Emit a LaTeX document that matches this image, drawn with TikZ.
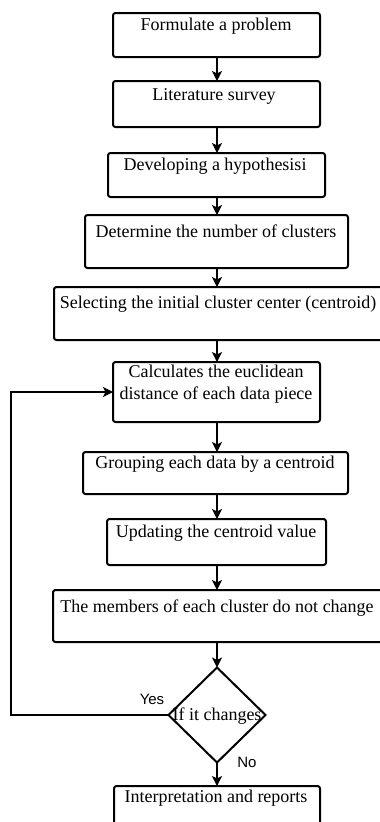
\documentclass[tikz,border=0pt]{standalone}
\usepackage{fontspec}
\setmainfont{Liberation Serif}
\newfontfamily\lsans{Liberation Sans}
\usetikzlibrary{shapes.geometric,arrows.meta}
\begin{document}
\begin{tikzpicture}[x=1pt,y=-1pt,
  box/.style={draw,line width=2pt,rounded corners=2.5pt,inner sep=0pt,outer sep=0pt},
  txt/.style={inner sep=0pt,font=\fontsize{18}{22}\selectfont,anchor=base},
  lbl/.style={inner sep=0pt,font=\lsans\fontsize{15}{18}\selectfont,anchor=base},
  arr/.style={line width=1.3pt,-{Stealth[length=10pt,width=10pt,inset=2.5pt]}}]
\useasboundingbox (0,0) rectangle (380,822);
\clip (0,0) rectangle (380,822);
\coordinate (axis) at (217,0);
\coordinate (lp) at (11,0);
% boxes
\node[box,minimum width=207pt,minimum height=44pt] (b1) at (216.5,35) {};
\node[box,minimum width=207pt,minimum height=46pt] (b2) at (216.5,104) {};
\node[box,minimum width=217pt,minimum height=44pt] (b3) at (216.5,175) {};
\node[box,minimum width=263pt,minimum height=53pt] (b4) at (216.5,241.5) {};
\node[box,minimum width=330pt,minimum height=53pt] (b5) at (219,313.5) {};
\node[box,minimum width=207pt,minimum height=60pt] (b6) at (216.5,392) {};
\node[box,minimum width=265pt,minimum height=42pt] (b7) at (215.5,473) {};
\node[box,minimum width=219pt,minimum height=46pt] (b8) at (216.5,542) {};
\node[box,minimum width=331pt,minimum height=52pt] (b9) at (218.5,616) {};
\node[draw,line width=2pt,shape=diamond,minimum width=97pt,minimum height=95pt,inner sep=0pt,outer sep=0pt] (d) at (217,715) {};
\node[box,minimum width=206pt,minimum height=44pt] (b10) at (217,808) {};
% texts
\node[txt] (t1) at (216,30) {Formulate a problem};
\node[txt] (t2) at (214,100) {Literature survey};
\node[txt] (t3) at (215,170) {Developing a hypothesisi};
\node[txt] (t4) at (216,237) {Determine the number of clusters};
\node[txt] (t5) at (218,308) {Selecting the initial cluster center (centroid)};
\node[txt] (t6a) at (216,377) {Calculates the euclidean};
\node[txt] (t6b) at (216,399) {distance of each data piece};
\node[txt] (t7) at (215,468) {Grouping each data by a centroid};
\node[txt] (t8) at (216,537) {Updating the centroid value};
\node[txt] (t9) at (217,612) {The members of each cluster do not change};
\node[txt] (td) at (217,720) {If it changes};
\node[txt] (t10) at (216,802) {Interpretation and reports};
\node[lbl] (yes) at (152,704) {Yes};
\node[lbl] (no) at (247,767) {No};
% connectors
\draw[arr] (b1.south -| axis) -- (b2.north -| axis);
\draw[arr] (b2.south -| axis) -- (b3.north -| axis);
\draw[arr] (b3.south -| axis) -- (b4.north -| axis);
\draw[arr] (b4.south -| axis) -- (b5.north -| axis);
\draw[arr] (b5.south -| axis) -- (b6.north -| axis);
\draw[arr] (b6.south -| axis) -- (b7.north -| axis);
\draw[arr] (b7.south -| axis) -- (b8.north -| axis);
\draw[arr] (b8.south -| axis) -- (b9.north -| axis);
\draw[arr] (b9.south -| axis) -- (d.north);
\draw[arr] (d.south) -- (b10.north -| axis);
\draw[arr] (d.west) -- (d.west -| lp) |- (b6.west);
\end{tikzpicture}
\end{document}
